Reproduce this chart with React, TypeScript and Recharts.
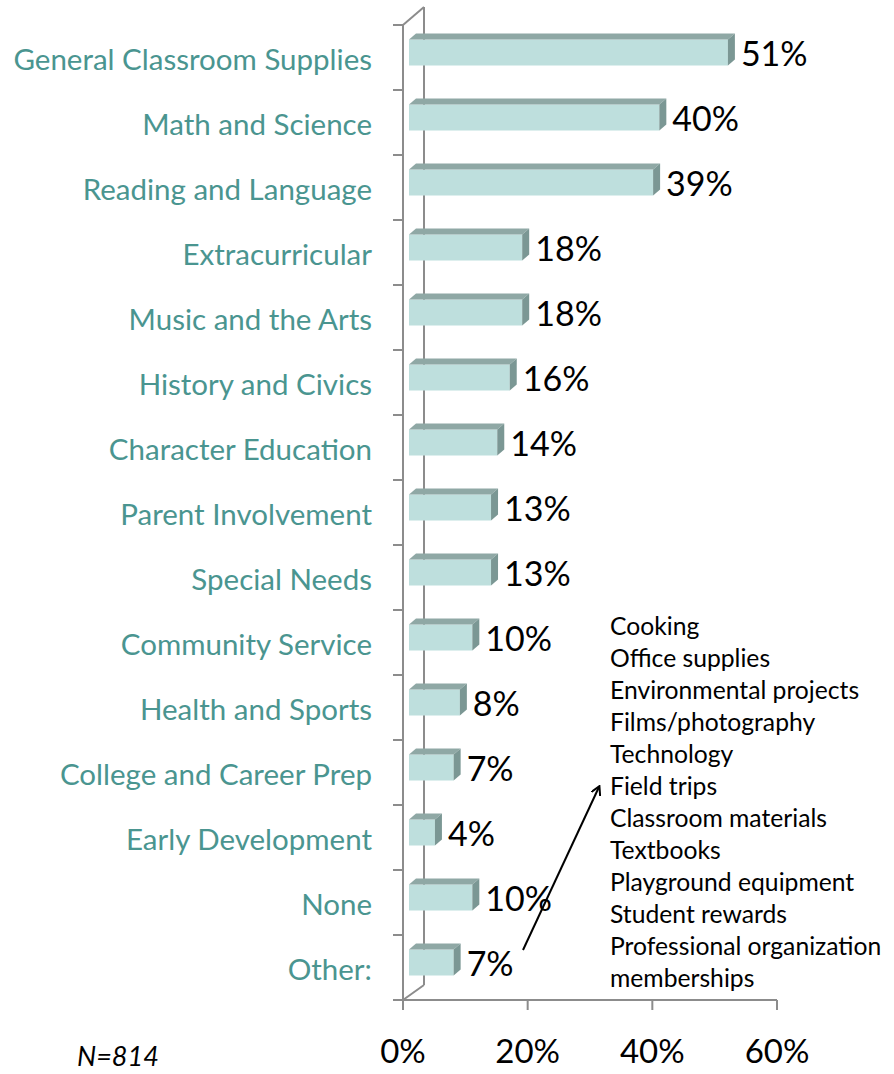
import React from 'react';
import { BarChart, Bar, XAxis, YAxis, LabelList } from 'recharts';

const categories = [
  'General Classroom Supplies',
  'Math and Science',
  'Reading and Language',
  'Extracurricular',
  'Music and the Arts',
  'History and Civics',
  'Character Education',
  'Parent Involvement',
  'Special Needs',
  'Community Service',
  'Health and Sports',
  'College and Career Prep',
  'Early Development',
  'None',
  'Other:',
];
const values = [0.51, 0.4, 0.39, 0.18, 0.18, 0.16, 0.14, 0.13, 0.13, 0.1, 0.08, 0.07, 0.04, 0.1, 0.07];
const xTicks = [0, 0.2, 0.4, 0.6];
const otherItems = [
  'Cooking',
  'Office supplies',
  'Environmental projects',
  'Films/photography',
  'Technology',
  'Field trips',
  'Classroom materials',
  'Textbooks',
  'Playground equipment',
  'Student rewards',
  'Professional organization',
  'memberships',
];
const sampleNote = 'N=814';

const data = categories.map((name, i) => ({ name, value: values[i] }));

const W = 894;
const H = 1074;
const PLOT_LEFT = 403;
const PLOT_RIGHT = 777;
const PLOT_TOP = 25;
const PLOT_BOTTOM = 1000;
const BAND = (PLOT_BOTTOM - PLOT_TOP) / categories.length;
const FONT = 'Lato, "Open Sans", sans-serif';
const AXIS = '#8c8c8c';
const TEAL = '#4A9590';
const FRONT = '#BEDFDD';
const TOP = '#8FA8A5';
const SIDE = '#7B9794';
const DX = 7;
const DY = 6;

const pct = (v: number) => `${Math.round(v * 100)}%`;

const Bar3D = (props: any) => {
  const { x, y, width, height } = props;
  const fx = x + 6;
  const fy = y - 5.5;
  const fw = Math.max(width + 1, 0);
  const fh = height;
  return (
    <g>
      <rect x={fx} y={fy} width={fw} height={fh} fill={FRONT} />
      <polygon
        points={`${fx},${fy} ${fx + DX},${fy - DY} ${fx + fw + DX},${fy - DY} ${fx + fw},${fy}`}
        fill={TOP}
      />
      <polygon
        points={`${fx + fw},${fy} ${fx + fw + DX},${fy - DY} ${fx + fw + DX},${fy + fh - DY} ${fx + fw},${fy + fh}`}
        fill={SIDE}
      />
    </g>
  );
};

const ValueLabel = (props: any) => {
  const { x, y, width, height, value } = props;
  return (
    <text
      x={x + width + 20}
      y={y + height / 2 - 5.5}
      dominantBaseline="central"
      fontFamily={FONT}
      fontSize={34}
      fill="#000"
    >
      {pct(value)}
    </text>
  );
};

const CatTick = (props: any) => {
  const { y, payload, index } = props;
  const isLast = index === categories.length - 1;
  return (
    <g>
      <line x1={PLOT_LEFT - 10} x2={PLOT_LEFT} y1={y - BAND / 2} y2={y - BAND / 2} stroke={AXIS} strokeWidth={2} />
      {isLast && (
        <line x1={PLOT_LEFT - 10} x2={PLOT_LEFT} y1={y + BAND / 2} y2={y + BAND / 2} stroke={AXIS} strokeWidth={2} />
      )}
      <text
        x={PLOT_LEFT - 31}
        y={y + 1}
        textAnchor="end"
        dominantBaseline="central"
        fontFamily={FONT}
        fontSize={29.5}
        fill={TEAL}
      >
        {payload.value}
      </text>
    </g>
  );
};

const PctTick = (props: any) => {
  const { x, payload } = props;
  return (
    <text
      x={x}
      y={1050}
      textAnchor="middle"
      dominantBaseline="central"
      fontFamily={FONT}
      fontSize={33}
      fill="#000"
    >
      {pct(payload.value)}
    </text>
  );
};

export default function App() {
  return (
    <div style={{ position: 'absolute', left: 0, top: 0, width: W, height: H, background: '#fff' }}>
      <svg width={W} height={H} style={{ position: 'absolute', left: 0, top: 0 }}>
        <line x1={PLOT_LEFT + 21} x2={PLOT_LEFT + 21} y1={PLOT_TOP - 18} y2={PLOT_BOTTOM - 15} stroke={AXIS} strokeWidth={2} />
        <line x1={PLOT_LEFT} x2={PLOT_LEFT + 21} y1={PLOT_TOP} y2={PLOT_TOP - 18} stroke={AXIS} strokeWidth={2} />
        <line x1={PLOT_LEFT} x2={PLOT_LEFT + 21} y1={PLOT_BOTTOM} y2={PLOT_BOTTOM - 15} stroke={AXIS} strokeWidth={2} />
      </svg>
      <div style={{ position: 'absolute', left: 0, top: 0 }}>
        <BarChart
          width={W}
          height={H}
          data={data}
          layout="vertical"
          margin={{ top: PLOT_TOP, right: W - PLOT_RIGHT, bottom: 0, left: 0 }}
        >
          <XAxis
            type="number"
            domain={[0, 0.6]}
            ticks={xTicks}
            height={H - PLOT_BOTTOM}
            axisLine={{ stroke: AXIS, strokeWidth: 2 }}
            tickLine={{ stroke: AXIS, strokeWidth: 2 }}
            tickSize={10}
            tick={<PctTick />}
            interval={0}
          />
          <YAxis
            type="category"
            dataKey="name"
            width={PLOT_LEFT}
            axisLine={{ stroke: AXIS, strokeWidth: 2 }}
            tickLine={false}
            tick={<CatTick />}
            interval={0}
          />
          <Bar dataKey="value" barSize={26} shape={<Bar3D />} isAnimationActive={false}>
            <LabelList dataKey="value" content={<ValueLabel />} />
          </Bar>
        </BarChart>
      </div>
      <svg width={W} height={H} style={{ position: 'absolute', left: 0, top: 0, pointerEvents: 'none' }}>
        <defs>
          <marker id="arrowHead" markerWidth="10" markerHeight="10" refX="8" refY="5" orient="auto" markerUnits="userSpaceOnUse">
            <path d="M0,0 L9,5 L0,10" fill="none" stroke="#000" strokeWidth={2} />
          </marker>
        </defs>
        <line x1={523} y1={950} x2={599} y2={787} stroke="#000" strokeWidth={2} markerEnd="url(#arrowHead)" />
        {otherItems.map((t, i) => (
          <text key={t} x={610} y={625 + i * 32} dominantBaseline="central" fontFamily={FONT} fontSize={24.7} fill="#000">
            {t}
          </text>
        ))}
        <text x={77} y={1066} fontFamily={FONT} fontSize={27} fontStyle="italic" fill="#000">
          {sampleNote}
        </text>
      </svg>
    </div>
  );
}
